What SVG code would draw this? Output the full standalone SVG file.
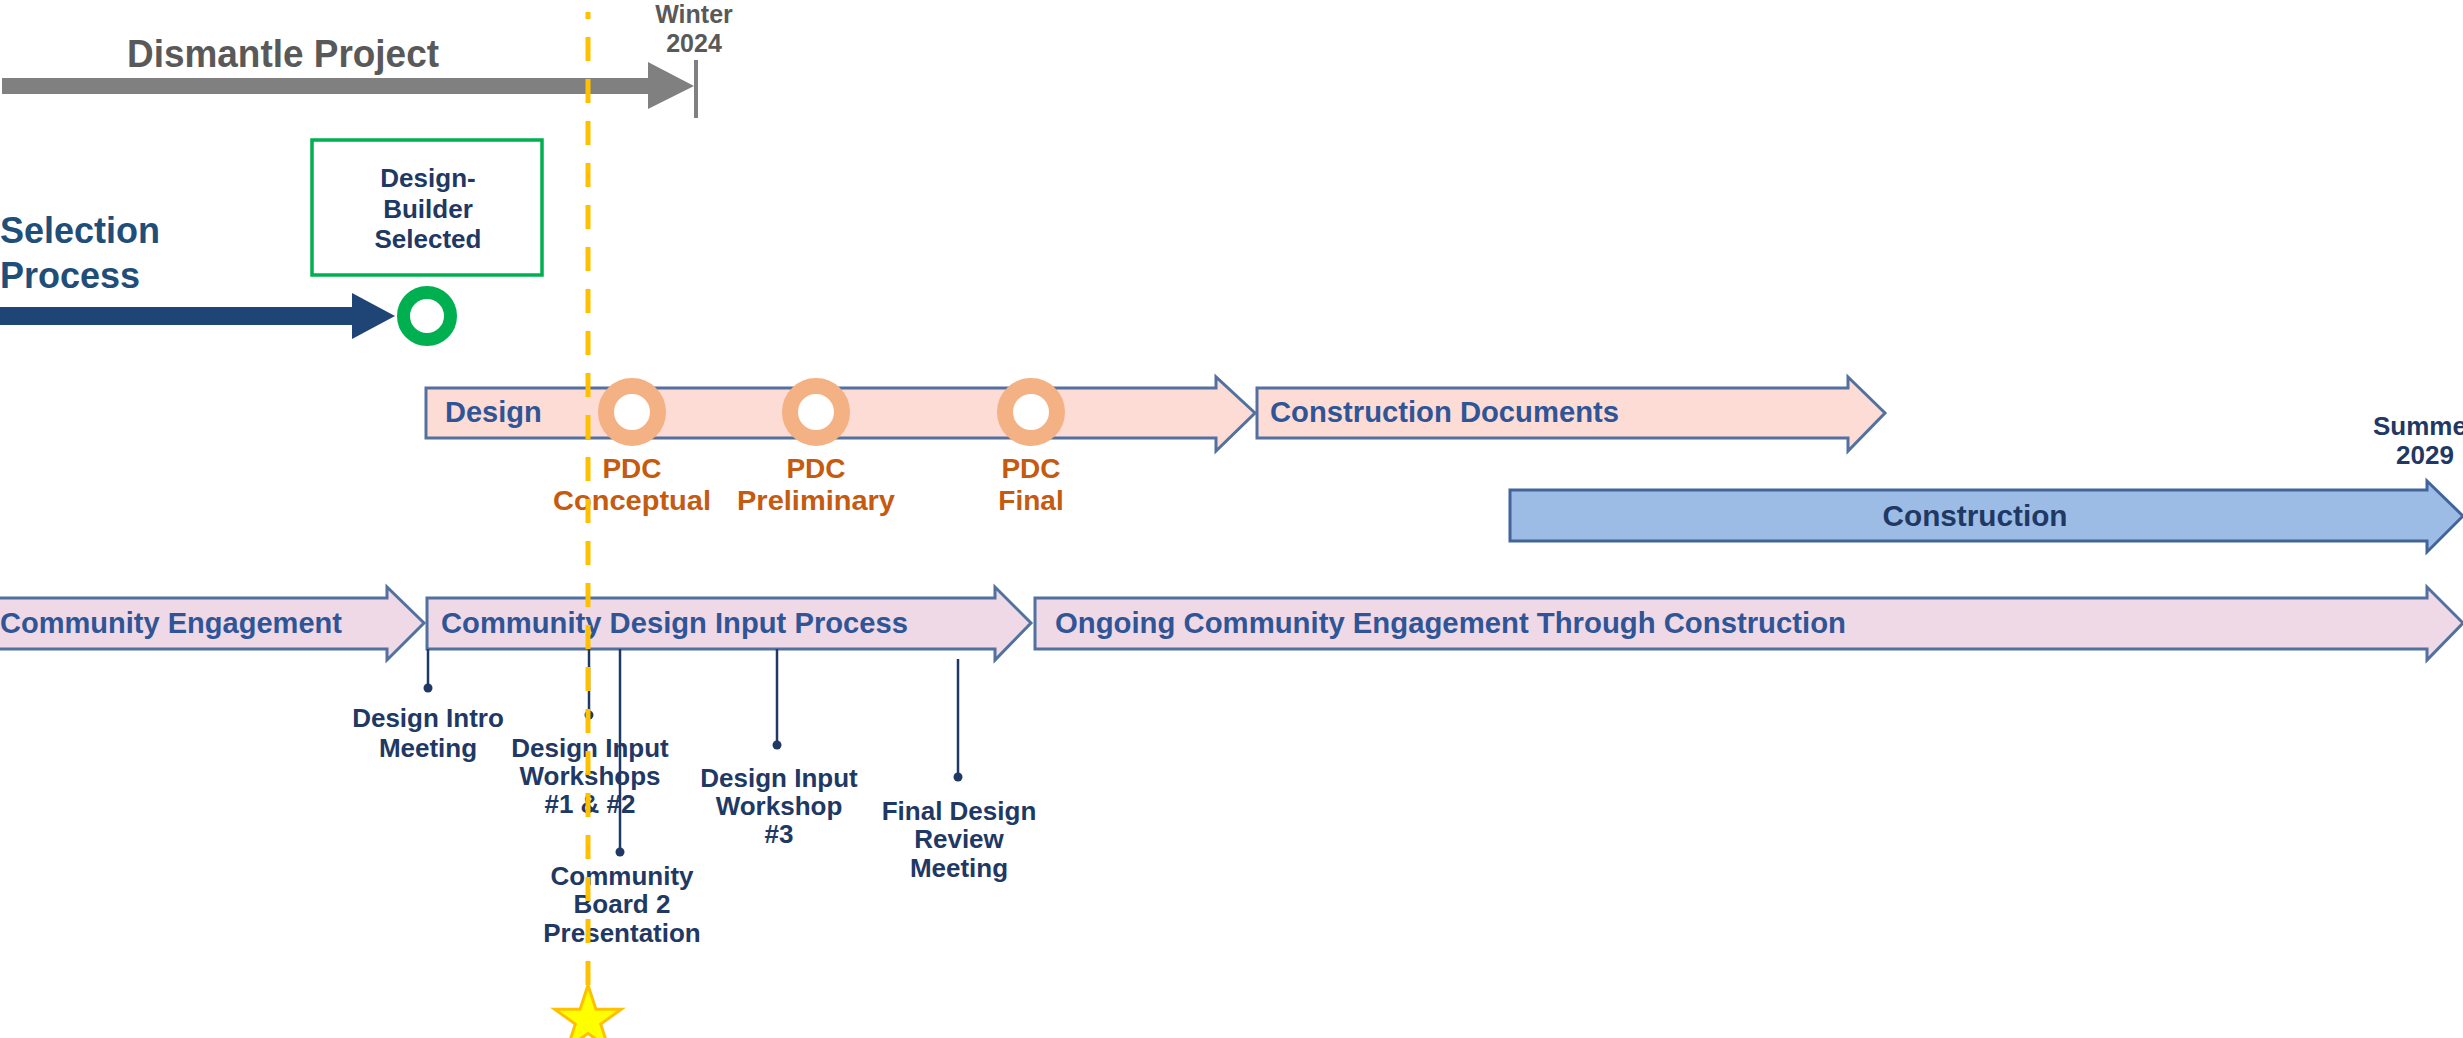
<svg xmlns="http://www.w3.org/2000/svg" width="2463" height="1038" viewBox="0 0 2463 1038">
<style>
text{font-family:"Liberation Sans",Arial,sans-serif;font-weight:bold}
.gray{fill:#595959}
.navy{fill:#1F3864}
.blue{fill:#2F5597}
.org{fill:#C55A11}
.pink{fill:#FDDCD6;stroke:#52719F;stroke-width:3}
.lav{fill:#EFD9E6;stroke:#52719F;stroke-width:3}
.cyan{fill:#9CBCE6;stroke:#41649B;stroke-width:3}
.ring{fill:#fff;stroke:#F4B183;stroke-width:16}
.call{stroke:#1F3864;stroke-width:2.5;fill:none}
.dot{fill:#1F3864}
</style>
<rect width="2463" height="1038" fill="#fff"/>

<g id="dismantle">
<rect x="2" y="78" width="646" height="16" fill="#808080"/>
<polygon points="648,62 694,86 648,109" fill="#808080"/>
<line x1="696" y1="60" x2="696" y2="118" stroke="#808080" stroke-width="4"/>
<text x="127" y="67" font-size="38" class="gray" textLength="312" lengthAdjust="spacingAndGlyphs">Dismantle Project</text>
</g>
<g id="winter2024">
<text x="694" y="23" font-size="25" class="gray" text-anchor="middle">Winter</text>
<text x="694" y="52" font-size="25" class="gray" text-anchor="middle">2024</text>
</g>

<g id="selection">
<text x="0" y="243" font-size="36" fill="#1F4E79">Selection</text>
<text x="0" y="288" font-size="36" fill="#1F4E79">Process</text>
<rect x="-2" y="307" width="354" height="18" fill="#1F4577"/>
<polygon points="352,293 395,316 352,339" fill="#1F4577"/>
</g>
<g id="designbuilder">
<rect x="312" y="140" width="230" height="135" fill="#fff" stroke="#00B050" stroke-width="3.5"/>
<text x="428" y="187" font-size="26" class="navy" text-anchor="middle">Design-</text>
<text x="428" y="218" font-size="26" class="navy" text-anchor="middle">Builder</text>
<text x="428" y="248" font-size="26" class="navy" text-anchor="middle">Selected</text>
<circle cx="427" cy="316" r="23.5" fill="#fff" stroke="#00B050" stroke-width="13"/>
</g>

<g id="design">
<polygon class="pink" points="426,388 1216,388 1216,377 1255,413 1216,451 1216,438 426,438"/>
<text x="445" y="422" font-size="29" class="blue">Design</text>
</g>
<g id="constdocs">
<polygon class="pink" points="1257,388 1848,388 1848,377 1885,413 1848,451 1848,438 1257,438"/>
<text x="1270" y="422" font-size="29" class="blue" textLength="349" lengthAdjust="spacingAndGlyphs">Construction Documents</text>
</g>
<g id="pdc-conceptual">
<circle class="ring" cx="632" cy="412" r="26"/>
<text x="632" y="478" font-size="28" class="org" text-anchor="middle">PDC</text>
<text x="632" y="510" font-size="28" class="org" text-anchor="middle" textLength="158" lengthAdjust="spacingAndGlyphs">Conceptual</text>
</g>
<g id="pdc-preliminary">
<circle class="ring" cx="816" cy="412" r="26"/>
<text x="816" y="478" font-size="28" class="org" text-anchor="middle">PDC</text>
<text x="816" y="510" font-size="28" class="org" text-anchor="middle" textLength="158" lengthAdjust="spacingAndGlyphs">Preliminary</text>
</g>
<g id="pdc-final">
<circle class="ring" cx="1031" cy="412" r="26"/>
<text x="1031" y="478" font-size="28" class="org" text-anchor="middle">PDC</text>
<text x="1031" y="510" font-size="28" class="org" text-anchor="middle">Final</text>
</g>

<g id="summer2029">
<text x="2425" y="435" font-size="26" class="navy" text-anchor="middle">Summer</text>
<text x="2425" y="464" font-size="26" class="navy" text-anchor="middle">2029</text>
</g>
<g id="construction">
<polygon class="cyan" points="1510,490 2427,490 2427,481 2463,516 2427,552 2427,541 1510,541"/>
<text x="1975" y="526" font-size="29" class="navy" text-anchor="middle" textLength="185" lengthAdjust="spacingAndGlyphs">Construction</text>
</g>

<g id="community">
<polygon class="lav" points="-5,598 387,598 387,587 424,623 387,660 387,649 -5,649"/>
<text x="0" y="633" font-size="29" class="blue" textLength="342" lengthAdjust="spacingAndGlyphs">Community Engagement</text>
</g>
<g id="cdip">
<polygon class="lav" points="427,598 995,598 995,587 1031,623 995,660 995,649 427,649"/>
<text x="441" y="633" font-size="29" class="blue" textLength="467" lengthAdjust="spacingAndGlyphs">Community Design Input Process</text>
</g>
<g id="ongoing">
<polygon class="lav" points="1035,598 2427,598 2427,587 2463,623 2427,660 2427,649 1035,649"/>
<text x="1055" y="633" font-size="29" class="blue" textLength="791" lengthAdjust="spacingAndGlyphs">Ongoing Community Engagement Through Construction</text>
</g>

<g id="connectors">
<line class="call" x1="428" y1="649" x2="428" y2="688"/><circle class="dot" cx="428" cy="688" r="4.5"/>
<line class="call" x1="589" y1="649" x2="589" y2="715"/><circle class="dot" cx="589" cy="715" r="4.5"/>
<line class="call" x1="620" y1="649" x2="620" y2="852"/><circle class="dot" cx="620" cy="852" r="4.5"/>
<line class="call" x1="777" y1="649" x2="777" y2="745"/><circle class="dot" cx="777" cy="745" r="4.5"/>
<line class="call" x1="958" y1="659" x2="958" y2="777"/><circle class="dot" cx="958" cy="777" r="4.5"/>
</g>

<g id="intro-meeting">
<text x="428" y="727" font-size="26" class="navy" text-anchor="middle">Design Intro</text>
<text x="428" y="757" font-size="26" class="navy" text-anchor="middle">Meeting</text>
</g>
<g id="workshops12">
<text x="590" y="757" font-size="26" class="navy" text-anchor="middle">Design Input</text>
<text x="590" y="785" font-size="26" class="navy" text-anchor="middle">Workshops</text>
<text x="590" y="813" font-size="26" class="navy" text-anchor="middle">#1 &amp; #2</text>
</g>
<g id="cb2">
<text x="622" y="885" font-size="26" class="navy" text-anchor="middle">Community</text>
<text x="622" y="913" font-size="26" class="navy" text-anchor="middle">Board 2</text>
<text x="622" y="942" font-size="26" class="navy" text-anchor="middle">Presentation</text>
</g>
<g id="workshop3">
<text x="779" y="787" font-size="26" class="navy" text-anchor="middle">Design Input</text>
<text x="779" y="815" font-size="26" class="navy" text-anchor="middle">Workshop</text>
<text x="779" y="843" font-size="26" class="navy" text-anchor="middle">#3</text>
</g>
<g id="final-review">
<text x="959" y="820" font-size="26" class="navy" text-anchor="middle">Final Design</text>
<text x="959" y="848" font-size="26" class="navy" text-anchor="middle">Review</text>
<text x="959" y="877" font-size="26" class="navy" text-anchor="middle">Meeting</text>
</g>

<g id="today">
<line x1="588" y1="12" x2="588" y2="985" stroke="#FFC000" stroke-width="5" stroke-dasharray="24 18" stroke-dashoffset="17"/>
<polygon points="588,985 595.9,1009.2 621.3,1009.2 600.7,1024.1 608.6,1048.3 588,1033.4 567.4,1048.3 575.3,1024.1 554.7,1009.2 580.1,1009.2" fill="#FFFF00" stroke="#FFC000" stroke-width="3" stroke-linejoin="miter"/>
</g>
</svg>
